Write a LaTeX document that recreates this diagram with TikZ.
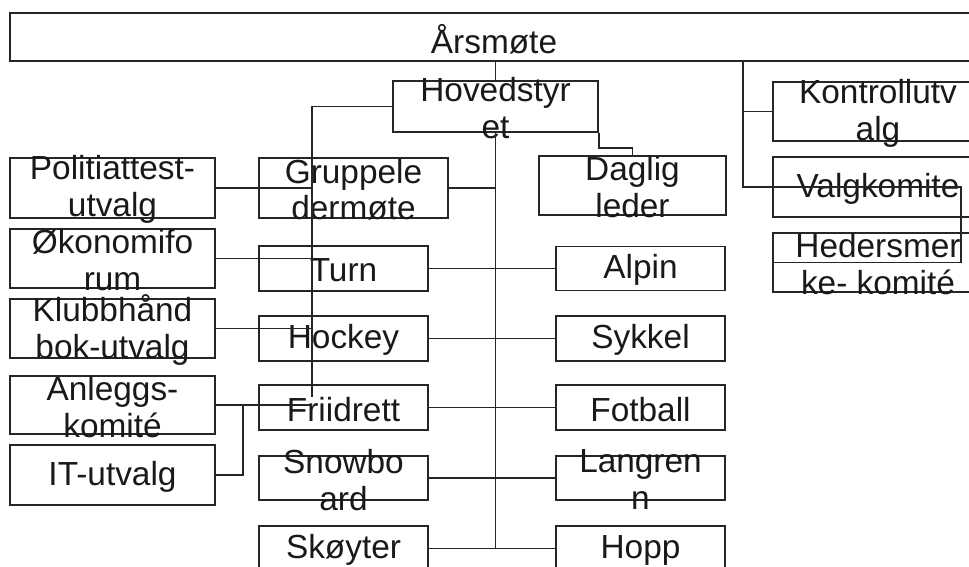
\documentclass[tikz,border=0pt]{standalone}
\usepackage{fontspec}
\setmainfont{Liberation Sans}
\usetikzlibrary{positioning}

\tikzset{
  box/.style={draw=black!85, line width=1pt, inner sep=0pt},
  boxtext/.style={align=center, text=black!90, yshift=-1pt, font=\fontsize{19}{21}\selectfont},
  link/.style={draw=black!85, line width=1pt},
}

\begin{document}
\begin{tikzpicture}[x=0.02cm, y=-0.02cm]
            \useasboundingbox (0,0) rectangle (969,567);
            \clip (0,0) rectangle (969,567);

            % top
            \node[box, minimum width=19.36cm, minimum height=0.96cm, label={[boxtext]center:Årsmøte}] (ars) at (494,37) {};
            \node[box, minimum width=4.1cm, minimum height=1.02cm, label={[boxtext]center:Hovedstyr\\et}] (hoved) at (495.5,106.5) {};
            \node[box, minimum width=3.74cm, minimum height=1.18cm, label={[boxtext]center:Daglig\\leder}] (daglig) at (632.5,185.5) {};

            % right column
            \node[box, minimum width=4.2cm, minimum height=1.18cm, label={[boxtext]center:Kontrollutv\\alg}] (kontroll) at (878,111.5) {};
            \node[box, minimum width=4.2cm, minimum height=1.2cm, label={[boxtext]center:Valgkomite}] (valg) at (878,187) {};
            \node[box, minimum width=4.2cm, minimum height=1.18cm, label={[boxtext]center:Hedersmer\\ke- komité}] (heder) at (878,262.5) {};

            % left column
            \node[box, minimum width=4.1cm, minimum height=1.2cm, label={[boxtext]center:Politiattest-\\utvalg}] (pol) at (112.5,188) {};
            \node[box, minimum width=4.1cm, minimum height=1.18cm, label={[boxtext]center:Økonomifo\\rum}] (oko) at (112.5,258.5) {};
            \node[box, minimum width=4.1cm, minimum height=1.18cm, label={[boxtext]center:Klubbhånd\\bok-utvalg}] (klubb) at (112.5,328.5) {};
            \node[box, minimum width=4.1cm, minimum height=1.16cm, label={[boxtext]center:Anleggs-\\komité}] (anl) at (112.5,405) {};
            \node[box, minimum width=4.1cm, minimum height=1.2cm, label={[boxtext]center:IT-utvalg}] (it) at (112.5,475) {};

            % groups
            \node[box, minimum width=3.78cm, minimum height=1.2cm, label={[boxtext]center:Gruppele\\dermøte}] (grp) at (353.5,188) {};
            \node[box, minimum width=3.38cm, minimum height=0.9cm, label={[boxtext]center:Turn}] (turn) at (343.5,268.5) {};
            \node[box, minimum width=3.38cm, minimum height=0.9cm, label={[boxtext]center:Hockey}] (hockey) at (343.5,338.5) {};
            \node[box, minimum width=3.38cm, minimum height=0.9cm, label={[boxtext]center:Friidrett}] (fri) at (343.5,407.5) {};
            \node[box, minimum width=3.38cm, minimum height=0.88cm, label={[boxtext]center:Snowbo\\ard}] (snow) at (343.5,478) {};
            \node[box, minimum width=3.38cm, minimum height=0.9cm, label={[boxtext]center:Skøyter}] (skoyter) at (343.5,548.5) {};

            \node[box, minimum width=3.38cm, minimum height=0.88cm, label={[boxtext]center:Alpin}] (alpin) at (640.5,268.5) {};
            \node[box, minimum width=3.38cm, minimum height=0.9cm, label={[boxtext]center:Sykkel}] (sykkel) at (640.5,338.5) {};
            \node[box, minimum width=3.38cm, minimum height=0.9cm, label={[boxtext]center:Fotball}] (fotball) at (640.5,407.5) {};
            \node[box, minimum width=3.38cm, minimum height=0.88cm, label={[boxtext]center:Langren\\n}] (langrenn) at (640.5,478) {};
            \node[box, minimum width=3.38cm, minimum height=0.9cm, label={[boxtext]center:Hopp}] (hopp) at (640.5,548.5) {};

            \coordinate (trunkend) at (495.5,549);
            \coordinate (gl) at (312,397);
            \coordinate (rb) at (743,0);

            % connectors
            \draw[link] (ars.south -| hoved.north) -- (hoved.north);
            \draw[link] (hoved.south) -- (trunkend);
            \draw[link] (hoved.west) -| (gl);
            \draw[link] (hoved.south east) -- ++(0,15) -| (daglig.north);
            \draw[link] (ars.south -| rb) |- (valg.west) -- ++(189,0) |- (heder.west);
            \draw[link] (kontroll.west -| rb) -- (kontroll.west);

            \draw[link] (pol.east) -- (pol.east -| gl);
            \draw[link] (oko.east) -- (oko.east -| gl);
            \draw[link] (klubb.east) -- (klubb.east -| gl);
            \draw[link] (anl.east) -- (anl.east -| gl);
            \draw[link] (it.east) -- ++(27,0) |- (anl.east);

            \draw[link] (grp.east) -- (grp.east -| trunkend);
            \draw[link] (turn.east) -- (alpin.west);
            \draw[link] (hockey.east) -- (sykkel.west);
            \draw[link] (fri.east) -- (fotball.west);
            \draw[link] (snow.east) -- (langrenn.west);
            \draw[link] (skoyter.east) -- (hopp.west);
\end{tikzpicture}
\end{document}
